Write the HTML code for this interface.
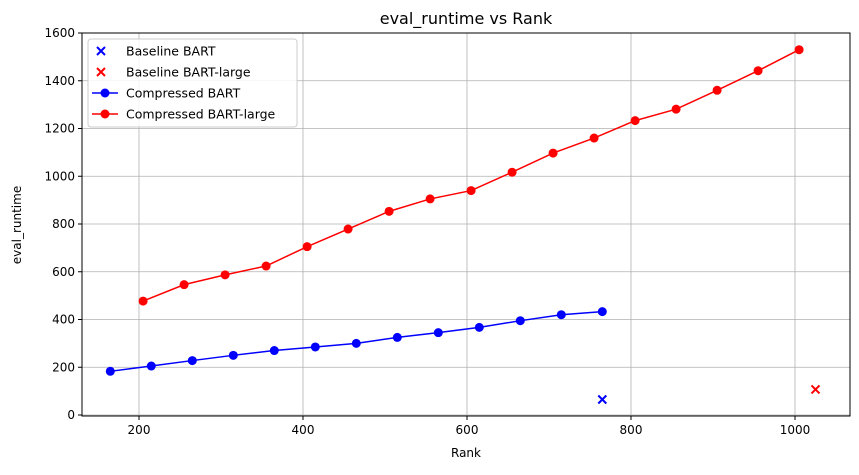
<!DOCTYPE html>
<html><head><meta charset="utf-8"><style>
body{margin:0;background:#fff;font-family:"Liberation Sans","DejaVu Sans",sans-serif}
svg text{font-family:"DejaVu Sans","Liberation Sans",sans-serif}
</style></head><body>
<svg id="c" width="859" height="470" xmlns="http://www.w3.org/2000/svg"></svg>
<script>
const blueRanks=[165,215,265,315,365,415,465,515,565,615,665,715,765];
const blueVals=[183,205,228,250,270,285,300,325,345,367,395,420,433];
const redRanks=[205,255,305,355,405,455,505,555,605,655,705,755,805,855,905,955,1005];
const redVals=[477,546,587,624,705,779,853,905,940,1017,1097,1160,1233,1281,1360,1442,1530];
const baseRanks=[765,1025];
const baseVals=[65,107];
const xTicks=[200,400,600,800,1000];
const yTicks=[0,200,400,600,800,1000,1200,1400,1600];
const L=82,R=850,T=33,B=416;
const sx=v=>139+(v-200)*0.82;
const sy=v=>415-v*(382/1600);
const svg=document.getElementById('c');
const NS='http://www.w3.org/2000/svg';
function mk(tag,attrs,name,txt){const e=document.createElementNS(NS,tag);for(const k in attrs)e.setAttribute(k,attrs[k]);


if(txt!==undefined)e.textContent=txt;svg.appendChild(e);return e;}
mk('text',{x:466,y:24,'text-anchor':'middle','font-size':16},'chart-title','eval_runtime vs Rank');
xTicks.forEach(t=>{const x=sx(t);mk('line',{x1:x,x2:x,y1:T,y2:B,stroke:'#b0b0b0','stroke-width':0.8},'x-gridline');
mk('line',{x1:x,x2:x,y1:B,y2:B+4,stroke:'#000'},'x-tick');
mk('text',{x:x,y:B+18,'text-anchor':'middle','font-size':12},'x-tick-label',t);});
yTicks.forEach(t=>{const y=sy(t);mk('line',{x1:L,x2:R,y1:y,y2:y,stroke:'#b0b0b0','stroke-width':0.8},'y-gridline');
mk('line',{x1:L-4,x2:L,y1:y,y2:y,stroke:'#000'},'y-tick');
mk('text',{x:L-7,y:y+4,'text-anchor':'end','font-size':12},'y-tick-label',t);});
mk('rect',{x:L,y:T,width:R-L,height:B-T,fill:'none',stroke:'#000','stroke-width':1},'plot-frame');
mk('text',{x:466,y:457,'text-anchor':'middle','font-size':12},'x-axis-title','Rank');
mk('text',{x:21,y:225,'text-anchor':'middle','font-size':12,transform:'rotate(-90 21 225)'},'y-axis-title','eval_runtime');
function series(xs,ys,col,name){mk('polyline',{points:xs.map((x,i)=>sx(x)+','+sy(ys[i])).join(' '),fill:'none',stroke:col,'stroke-width':1.5},name+'-line');
xs.forEach((x,i)=>mk('circle',{cx:sx(x),cy:sy(ys[i]),r:4.5,fill:col},name+'-point'));}
series(blueRanks,blueVals,'#0000ff','compressed-bart');
series(redRanks,redVals,'#ff0000','compressed-bart-large');
const bc=['#0000ff','#ff0000'];
function cross(x,y,c,n){mk('path',{d:`M${x-4},${y-4}L${x+4},${y+4}M${x-4},${y+4}L${x+4},${y-4}`,stroke:c,'stroke-width':2},n);}
baseRanks.forEach((r,i)=>cross(sx(r),sy(baseVals[i]),bc[i],i?'baseline-bart-large-marker':'baseline-bart-marker'));
mk('rect',{x:88,y:39,width:209,height:88,fill:'#fff','fill-opacity':0.85,stroke:'#ccc',rx:3},'legend');
const lg=[['Baseline BART','#0000ff','x'],['Baseline BART-large','#ff0000','x'],['Compressed BART','#0000ff','o'],['Compressed BART-large','#ff0000','o']];
lg.forEach((e,i)=>{const y=51+i*21;
if(e[2]==='x')cross(101,y,e[1],'legend-marker');else{mk('line',{x1:88+4,x2:118,y1:y,y2:y,stroke:e[1],'stroke-width':1.5},'legend-line');mk('circle',{cx:105,cy:y,r:4.5,fill:e[1]},'legend-marker');}
mk('text',{x:126,y:y+4.5,'font-size':12.5},'legend-entry',e[0]);});
</script>
</body></html>
